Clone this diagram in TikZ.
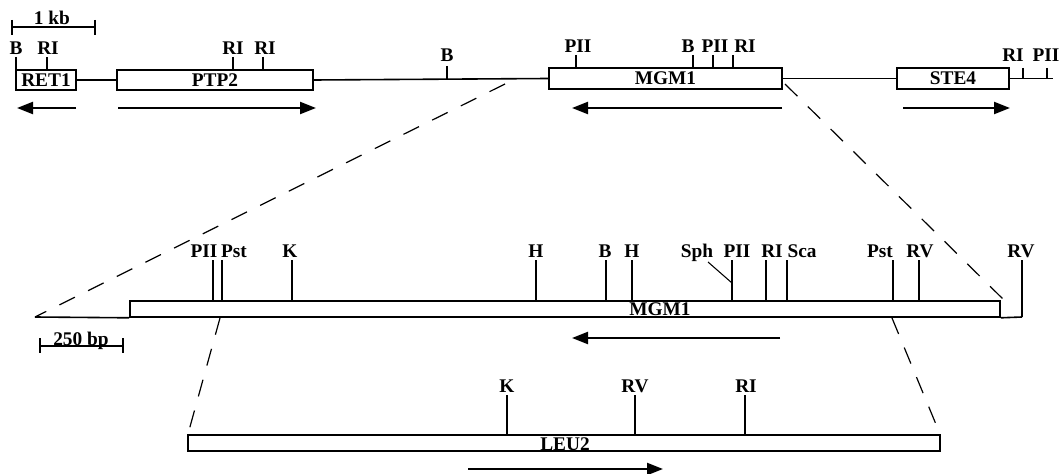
\documentclass[tikz,border=0pt]{standalone}
\usepackage{fontspec}
\setmainfont{Liberation Serif}
\usetikzlibrary{arrows.meta}
\begin{document}
\begin{tikzpicture}[x=0.75pt,y=-0.75pt,
  lbl/.style={font=\fontsize{14.5}{14.5}\selectfont\bfseries, inner sep=0pt, anchor=base},
  boxlbl/.style={font=\fontsize{14.5}{14.5}\selectfont\bfseries, inner sep=0pt},
  gene/.style={draw, line width=1.2pt, fill=white, inner sep=0pt, font=\fontsize{14.5}{14.5}\selectfont\bfseries},
  dna/.style={line width=1.2pt},
  site/.style={line width=0.8pt},
  dir/.style={line width=1.7pt, -{Triangle[length=12pt,width=9pt]}},
  zoomline/.style={line width=0.9pt, dash pattern=on 13pt off 11pt},
  scalebar/.style={line width=1pt}
]
\useasboundingbox (0,0) rectangle (1063,474);

% ---------- top row ----------
\node[gene, minimum width=45pt, minimum height=15pt] (ret1) at (46,80) {RET1};
\node[gene, minimum width=147pt, minimum height=15pt] (ptp2) at (215,80) {PTP2};
\node[gene, minimum width=174.75pt, minimum height=15.75pt] (mgm1t) at (665.5,78.5) {MGM1};
\node[gene, minimum width=84pt, minimum height=15.75pt] (ste4) at (953,78.5) {STE4};
\coordinate (tail) at (1053,78.5);
\draw[dna] (ret1.east) -- (ptp2.west);
\draw[dna] (ptp2.east) -- (mgm1t.west);
\draw[dna] (mgm1t.east) -- (ste4.west);
\draw[dna] (ste4.east) -- (tail);

% scale 1 kb
\draw[scalebar] (12,27) -- (95,27);
\draw[scalebar] (12,20) -- (12,35);
\draw[scalebar] (95,20) -- (95,35);
\node[lbl] (kb) at (52,25) {1 kb};

% top sites
\node[lbl] (tB1) at (16,55) {B};   \draw[site] (16,57) -- (16,70);
\node[lbl] (tR1) at (48,55) {RI};  \draw[site] (47,57) -- (47,70);
\node[lbl] (tR2) at (233,55) {RI}; \draw[site] (233,57) -- (233,70);
\node[lbl] (tR3) at (265,55) {RI}; \draw[site] (263,57) -- (263,70);
\node[lbl] (tB2) at (447,62) {B};  \draw[site] (447,66) -- (447,79);
\node[lbl] (tP1) at (578,53) {PII}; \draw[site] (576,55) -- (576,68);
\node[lbl] (tB3) at (688,53) {B};  \draw[site] (693,55) -- (693,68);
\node[lbl] (tP2) at (715,53) {PII}; \draw[site] (713,55) -- (713,68);
\node[lbl] (tR4) at (745,53) {RI}; \draw[site] (733,55) -- (733,68);
\node[lbl] (tR5) at (1013,62) {RI}; \draw[site] (1023,68) -- (1023,78.5);
\node[lbl] (tP3) at (1046,62) {PII}; \draw[site] (1047,68) -- (1047,78.5);

% top direction arrows
\draw[dir] (76,108) -- (17,108);
\draw[dir] (118,108) -- (316,108);
\draw[dir] (782,108) -- (572,108);
\draw[dir] (903,108) -- (1010,108);

% zoom lines top -> middle
\draw[zoomline] (505,84) -- (35,317);
\draw[zoomline] (785,84) -- (1008,304);

% ---------- middle row ----------
\node[gene, minimum width=652.5pt, minimum height=12pt] (mgm1m) at (565,309) {};
\node[boxlbl] (mgm1lbl) at (660,309) {MGM1};
\coordinate (mleft) at (35,317);
\coordinate (mright) at (1022,317);
\draw[dna] (mleft) -- (mgm1m.south west);
\draw[dna] (mgm1m.south east) -- (mright);

\node[lbl] (mP1) at (204,257) {PII}; \draw[site] (213,260) -- (213,301);
\node[lbl] (mPs1) at (234,257) {Pst}; \draw[site] (222,260) -- (222,301);
\node[lbl] (mK) at (290,257) {K}; \draw[site] (292,260) -- (292,301);
\node[lbl] (mH1) at (536,257) {H}; \draw[site] (536,260) -- (536,301);
\node[lbl] (mB) at (605,257) {B}; \draw[site] (606,260) -- (606,301);
\node[lbl] (mH2) at (632,257) {H}; \draw[site] (632,260) -- (632,301);
\node[lbl] (mSph) at (697,257) {Sph}; \draw[site] (708,262) -- (732,283);
\node[lbl] (mP2) at (737,257) {PII}; \draw[site] (732,260) -- (732,301);
\node[lbl] (mR) at (772,257) {RI}; \draw[site] (766,260) -- (766,301);
\node[lbl] (mSca) at (802,257) {Sca}; \draw[site] (787,260) -- (787,301);
\node[lbl] (mPs2) at (880,257) {Pst}; \draw[site] (893,260) -- (893,301);
\node[lbl] (mV1) at (920,257) {RV}; \draw[site] (919,260) -- (919,301);
\node[lbl] (mV2) at (1021,257) {RV}; \draw[site] (1022,260) -- (mright);

% scale 250 bp
\draw[scalebar] (40,346) -- (123,346);
\draw[scalebar] (40,338) -- (40,353);
\draw[scalebar] (123,338) -- (123,353);
\node[lbl] (bp) at (81,345) {250 bp};

\draw[dir] (780,338) -- (572,338);

% zoom lines middle -> bottom
\draw[zoomline] (220,318) -- (188,434);
\draw[zoomline] (892,318) -- (940,434);

% ---------- bottom row ----------
\node[gene, minimum width=564pt, minimum height=12pt] (leu2) at (564,443) {};
\node[boxlbl] (leu2lbl) at (565,444) {LEU2};
\node[lbl] (bK) at (507,392) {K}; \draw[site] (507,395) -- (507,435);
\node[lbl] (bV) at (635,392) {RV}; \draw[site] (635,395) -- (635,435);
\node[lbl] (bR) at (746,392) {RI}; \draw[site] (745,395) -- (745,435);
\draw[dir] (468,469) -- (663,469);
\end{tikzpicture}
\end{document}
